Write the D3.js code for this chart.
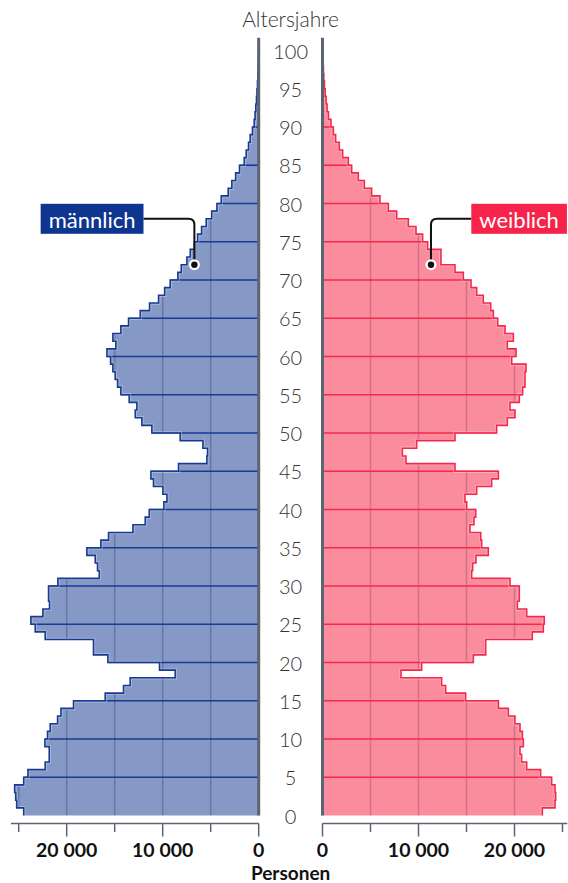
<!DOCTYPE html>
<html><head><meta charset="utf-8">
<script src="https://cdn.jsdelivr.net/npm/d3@7"></script>
<style>
body{margin:0;background:#fff}
svg{display:block}
text{font-family:Lato,"Source Sans Pro","Noto Sans",sans-serif}
</style>
</head><body>
<svg id="c" width="568" height="883"></svg>
<script>
// ---------- data ----------
const ages = d3.range(0, 101);
const male = [
  24480,25210,25310,25420,24480,24040,22240,21820,21820,22270,
  22000,21720,20950,20600,19290,15990,14080,13390,8700,10330,
  15710,17210,17210,22240,23280,23730,22480,21790,21890,21890,
  20920,16610,16790,17030,17900,16440,15640,13100,11820,11400,
  9880,9560,9980,10960,11230,8350,5400,5330,5810,8180,
  11130,12170,12860,12690,13490,14360,14700,14950,15190,15430,
  15810,14880,15190,14360,13560,12340,11370,10430,9800,9220,
  8420,8070,7480,7130,6700,6370,5950,5470,4900,4350,
  3900,3180,2800,2400,2000,1510,1300,1060,885,650,
  470,380,300,230,180,130,90,60,40,25,15
];
const female = [
  22900,24220,24290,24220,23870,22720,21270,20740,20570,20920,
  20820,20570,20050,19360,18320,14910,12830,12410,8180,10330,
  15710,17000,17000,21850,23000,23100,21270,20300,20500,20500,
  19530,15540,15640,15990,17270,16580,16480,15360,15780,15960,
  15020,14840,16060,17620,18320,13800,8700,8320,9810,13800,
  18140,19250,20050,19530,20500,20850,21090,21090,21200,19710,
  20160,19250,19880,19010,18250,17800,17520,16750,16060,15470,
  14670,13800,12340,12340,10950,10430,9740,8940,7730,6860,
  5990,5120,4360,3730,3040,2690,2100,1750,1370,1130,
  885,620,480,380,280,200,140,95,60,35,20
];
const xTicks = [0, 5000, 10000, 15000, 20000, 25000];
const xTickLabels = [0, 10000, 20000];
const gridValues = [5000, 10000, 15000, 20000, 25000];
const ageTicks = d3.range(0, 101, 5);
const seriesNames = ["männlich", "weiblich"];
const yTitle = "Altersjahre";
const xTitle = "Personen";

// ---------- layout ----------
const svg = d3.select("#c");
const y = d3.scaleLinear().domain([0, 100]).range([815.5, 50.5]);
const xL = d3.scaleLinear().domain([0, 25000]).range([258.7, 18.7]);
const xR = d3.scaleLinear().domain([0, 25000]).range([322.5, 562.5]);
const fmt = d3.formatLocale({decimal: ",", thousands: " ", grouping: [3], currency: ["", "€"]}).format(",");

const sides = [
  {key: "m", data: male, x: xL, fill: "#8698c6", stroke: "#173a92", grid: "rgba(40,55,100,0.33)",
   label: seriesNames[0], labelBg: "#0e3590", anchorAge: 72, anchorVal: 6700, boxAge: 78, boxVal: 12000, axisEnd: 25800},
  {key: "f", data: female, x: xR, fill: "#fb8c9d", stroke: "#f5284c", grid: "rgba(120,60,80,0.33)",
   label: seriesNames[1], labelBg: "#f7234a", anchorAge: 72, anchorVal: 11300, boxAge: 78, boxVal: 15500, axisEnd: 25500}
];

const defs = svg.append("defs");

sides.forEach(s => {
  const pts = ages.map(a => ({age: a, v: s.data[a]})).concat([{age: 101, v: s.data[100]}]);
  const area = d3.area().curve(d3.curveStepBefore)
    .y(d => y(d.age)).x0(s.x(0)).x1(d => s.x(d.v));
  const areaD = area(pts);

  defs.append("clipPath").attr("id", "clip-" + s.key).append("path").attr("d", areaD);

  const g = svg.append("g");
  g.append("path").attr("d", areaD).attr("fill", s.fill);

  // gridlines inside bars
  g.append("g").attr("clip-path", `url(#clip-${s.key})`)
    .selectAll("line").data(gridValues).join("line")
    .attr("x1", d => s.x(d)).attr("x2", d => s.x(d))
    .attr("y1", y(0)).attr("y2", y(101))
    .attr("stroke", s.grid).attr("stroke-width", 1.5);

  // five-year lines
  g.selectAll("line.five").data(ageTicks.filter(a => a > 0)).join("line")
    .attr("class", "five")
    .attr("x1", s.x(0))
    .attr("x2", a => s.x(Math.max(s.data[a], s.data[a - 1])))
    .attr("y1", a => y(a)).attr("y2", a => y(a))
    .attr("stroke", s.stroke).attr("stroke-width", 1.6);

  // outline
  const linePts = pts.concat([{age: 101, v: 0}]);
  const line = d3.line().curve(d3.curveStepBefore).x(d => s.x(d.v)).y(d => y(d.age));
  g.append("path").attr("d", line(linePts)).attr("fill", "none")
    .attr("stroke", "rgba(255,255,255,0.3)").attr("stroke-width", 3.5);
  g.append("path").attr("d", line(linePts)).attr("fill", "none")
    .attr("stroke", s.stroke).attr("stroke-width", 1.6);

  // vertical axis line
  svg.append("line").attr("x1", s.x(0)).attr("x2", s.x(0))
    .attr("y1", y(101) - 5).attr("y2", y(0))
    .attr("stroke", "#5d6471").attr("stroke-width", 3);

  // bottom axis
  const axG = svg.append("g").attr("transform", "translate(0,823.5)");
  axG.append("line").attr("x1", s.x(s.axisEnd)).attr("x2", s.x(0))
    .attr("stroke", "#5d6471").attr("stroke-width", 1.5);
  const tk = axG.selectAll("g.tick").data(xTicks).join("g").attr("class", "tick")
    .attr("transform", d => `translate(${s.x(d)},0)`);
  tk.append("line").attr("y2", d => d % 10000 === 0 ? 13 : 8.5)
    .attr("stroke", "#5d6471").attr("stroke-width", 1.5);
  tk.filter(d => xTickLabels.includes(d)).append("text")
    .attr("y", 33.5).attr("text-anchor", "middle")
    .attr("font-size", 19.5).attr("font-weight", 700).attr("fill", "#111")
    .text(d => fmt(d));

  // label with leader
  const ax = s.x(s.anchorVal), ay = y(s.anchorAge);
  const bx = s.x(s.boxVal), by = y(s.boxAge);
  const dir = s.key === "m" ? 1 : -1;
  const r = 6;
  const leader = d3.path();
  leader.moveTo(bx, by);
  leader.lineTo(ax - dir * r, by);
  leader.quadraticCurveTo(ax, by, ax, by + r);
  leader.lineTo(ax, ay);
  svg.append("path").attr("d", leader.toString()).attr("fill", "none")
    .attr("stroke", "#111").attr("stroke-width", 2);
  svg.append("circle").attr("cx", ax).attr("cy", ay).attr("r", 5.5).attr("fill", "#fff");
  svg.append("circle").attr("cx", ax).attr("cy", ay).attr("r", 3.2).attr("fill", "#111");

  const lg = svg.append("g");
  const rect = lg.append("rect");
  const lt = lg.append("text").attr("font-size", 22).attr("fill", "#fff")
    .attr("dominant-baseline", "central").attr("y", by + 1).text(s.label);
  const w = lt.node().getComputedTextLength();
  const pad = 8;
  const boxX = s.key === "m" ? bx - w - 2 * pad : bx;
  lt.attr("x", boxX + pad);
  rect.attr("x", boxX).attr("y", by - 15).attr("width", w + 2 * pad).attr("height", 30)
    .attr("fill", s.labelBg);
});

// age labels
const midX = (xL(0) + xR(0)) / 2;
svg.append("g").selectAll("text").data(ageTicks).join("text")
  .attr("x", midX).attr("y", d => y(d)).attr("text-anchor", "middle")
  .attr("dominant-baseline", "central")
  .attr("font-size", 20).attr("font-weight", 300).attr("fill", "#333")
  .text(d => d);

svg.append("text").attr("x", midX).attr("y", 26.7).attr("text-anchor", "middle")
  .attr("font-size", 21).attr("font-weight", 300).attr("fill", "#333").text(yTitle);

svg.append("text").attr("x", midX).attr("y", 879.5).attr("text-anchor", "middle")
  .attr("font-size", 19).attr("font-weight", 700).attr("fill", "#111").text(xTitle);
</script>
</body></html>
